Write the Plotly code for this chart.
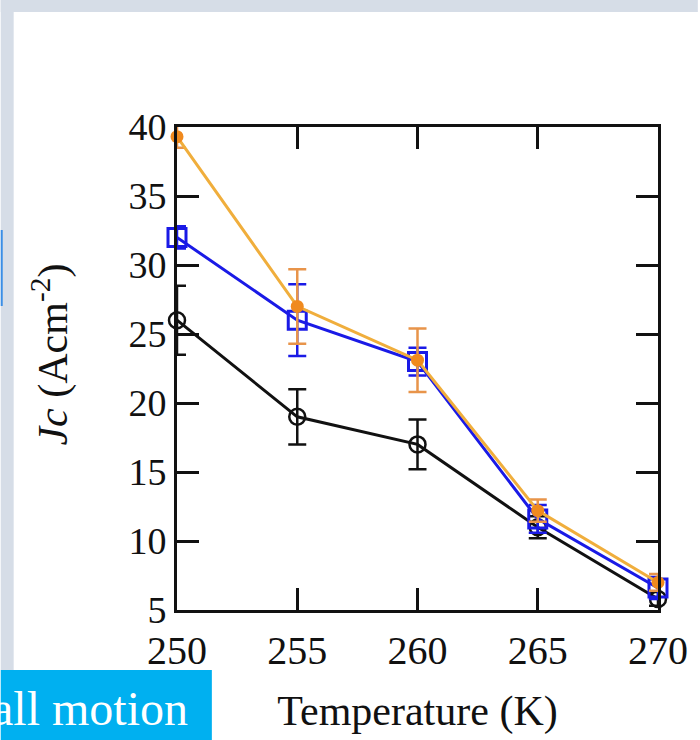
import plotly.graph_objects as go

# ---- data ----
temperature = [250, 255, 260, 265, 270]
x_ticks = [250, 255, 260, 265, 270]
y_ticks = [5, 10, 15, 20, 25, 30, 35, 40]

jc_black = [26.0, 19.0, 17.0, 11.0, 5.8]
err_black = [2.5, 2.0, 1.8, 0.8, 0.5]

jc_blue = [32.0, 26.0, 23.0, 11.6, 6.6]
err_blue = [0.8, 2.6, 1.0, 1.0, 0.8]

jc_orange = [39.3, 27.0, 23.1, 12.2, 7.0]
err_orange = [0.8, 2.7, 2.3, 0.8, 0.6]

# ---- layout constants ----
W, H = 700, 740
L, R, T, B = 177, 40, 127, 130
PW, PH = W - L - R, H - T - B


def px(x):
    return (x - L) / PW


def py(y):
    return (H - B - y) / PH


serif = "Liberation Serif"

fig = go.Figure()

fig.add_trace(go.Scatter(
    x=temperature, y=jc_black, mode="lines+markers",
    line=dict(color="#111111", width=3),
    marker=dict(symbol="circle-open", size=16, color="#111111", line=dict(width=2.5)),
    error_y=dict(type="data", array=err_black, color="#111111", thickness=2.5, width=9),
    cliponaxis=False, showlegend=False))

fig.add_trace(go.Scatter(
    x=temperature, y=jc_blue, mode="lines+markers",
    line=dict(color="#1a1ae6", width=3),
    marker=dict(symbol="square-open", size=18, color="#1a1ae6", line=dict(width=3)),
    error_y=dict(type="data", array=err_blue, color="#1a1ae6", thickness=2.5, width=9),
    cliponaxis=False, showlegend=False))

fig.add_trace(go.Scatter(
    x=temperature, y=jc_orange, mode="lines+markers",
    line=dict(color="#f0ae3c", width=3),
    marker=dict(symbol="circle", size=13, color="#f08a1e"),
    error_y=dict(type="data", array=err_orange, color="#e8944a", thickness=2.5, width=9),
    cliponaxis=False, showlegend=False))

axis_common = dict(
    showline=True, linewidth=3, linecolor="#111111", mirror="ticks",
    ticks="inside", ticklen=22, tickwidth=2.5, tickcolor="#111111",
    showgrid=False, zeroline=False,
)

fig.update_xaxes(range=[250, 270], tickvals=x_ticks, **axis_common,
                 tickfont=dict(family=serif, size=40, color="#111111"),
                 ticklabelstandoff=3,
                 title=dict(text="Temperature (K)", font=dict(family=serif, size=42, color="#111111"),
                            standoff=24))
fig.update_yaxes(range=[5, 40], tickvals=y_ticks, **axis_common,
                 tickfont=dict(family=serif, size=38, color="#111111"))

shapes = [
    # top grey strip
    dict(type="rect", xref="paper", yref="paper", x0=px(0), x1=px(W), y0=py(12), y1=py(0),
         fillcolor="#d6dde7", line_width=0, layer="below"),
    # left grey strip
    dict(type="rect", xref="paper", yref="paper", x0=px(0), x1=px(13), y0=py(670), y1=py(0),
         fillcolor="#d6dde7", line_width=0, layer="below"),
    # thin blue sliver at left edge
    dict(type="rect", xref="paper", yref="paper", x0=px(0), x1=px(2), y0=py(306), y1=py(230),
         fillcolor="#3a8ee6", line_width=0, layer="above"),
    # blue caption box
    dict(type="rect", xref="paper", yref="paper", x0=px(0), x1=px(212), y0=py(H), y1=py(670),
         fillcolor="#00b0f0", line_width=0, layer="above"),
]

annotations = [
    dict(text="<i>Jc</i> (Acm<sup>-2</sup>)", xref="paper", yref="paper",
         x=px(50), y=py(355), textangle=-90, showarrow=False,
         font=dict(family=serif, size=42, color="#111111"), xanchor="center", yanchor="middle"),
    dict(text="all motion", xref="paper", yref="paper",
         x=px(190), y=py(708), showarrow=False, xanchor="right", yanchor="middle",
         font=dict(family=serif, size=48, color="#ffffff")),
]

fig.update_layout(
    width=W, height=H,
    margin=dict(l=L, r=R, t=T, b=B),
    paper_bgcolor="#ffffff", plot_bgcolor="#ffffff",
    shapes=shapes, annotations=annotations,
)

fig.write_html("out.html")
